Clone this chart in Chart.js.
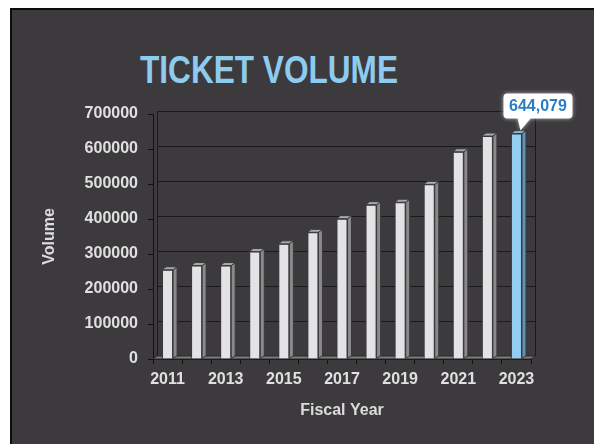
<!DOCTYPE html>
<html>
<head>
<meta charset="utf-8">
<script src="https://cdn.jsdelivr.net/npm/chart.js@4.4.1/dist/chart.umd.min.js"></script>
<style>
  html,body{margin:0;padding:0;background:#fff;overflow:hidden;}
  #panel{position:absolute;left:10px;top:8px;width:600px;height:450px;background:#3c3a3d;border:2px solid #0c0c0c;}
  #title{position:absolute;left:0;width:538px;top:50px;text-align:center;font:bold 39px "Liberation Sans",Arial,sans-serif;line-height:39px;color:#8dcbef;transform:scaleX(0.81);transform-origin:269px 0;}
  #wrap{position:absolute;left:0;top:0;width:594px;height:444px;}
</style>
</head>
<body>
<div id="panel"></div>
<div id="title">TICKET VOLUME</div>
<div id="wrap"><canvas id="chart"></canvas></div>
<script>
// --- Data ---
const YEARS = ['2011','2012','2013','2014','2015','2016','2017','2018','2019','2020','2021','2022','2023'];
const VOLUME = [255000,267000,267000,307000,329000,362000,401000,441000,448000,499000,592000,637000,644079];
const Y_TICKS = [0,100000,200000,300000,400000,500000,600000,700000];
const HIGHLIGHT = 12; // 2023 bar, with callout

const FONT = 'Liberation Sans, Arial, sans-serif';
const DX = 4, DY = 3; // 3d depth

function shade(i, kind){
  if(i===HIGHLIGHT) return kind==='front' ? '#93cdf1' : kind==='side' ? '#5f92b6' : '#7db5db';
  return kind==='front' ? '#e3e3e5' : kind==='side' ? '#8a8a8c' : '#aaaaac';
}

// back wall, gridlines and floor, behind the bars
const wallPlugin = {
  id:'wall',
  beforeDatasetsDraw(chart){
    const {ctx, chartArea:a, scales:{y}} = chart;
    ctx.save();
    ctx.strokeStyle = '#1a1a1a';
    ctx.lineWidth = 1;
    Y_TICKS.forEach(v=>{
      const py = Math.round(y.getPixelForValue(v)-DY)+0.5;
      ctx.beginPath(); ctx.moveTo(a.left+DX, py); ctx.lineTo(a.right+DX, py); ctx.stroke();
    });
    // wall edges
    const top = Math.round(y.getPixelForValue(Y_TICKS[Y_TICKS.length-1])-DY)+0.5;
    ctx.beginPath();
    ctx.moveTo(a.left+DX+0.5, top); ctx.lineTo(a.left+DX+0.5, a.bottom-DY);
    ctx.lineTo(a.left, a.bottom);
    ctx.moveTo(a.right+DX+0.5, top); ctx.lineTo(a.right+DX+0.5, a.bottom-DY);
    ctx.stroke();
    // floor
    ctx.fillStyle = '#7c7c7e';
    ctx.beginPath();
    ctx.moveTo(a.left, a.bottom); ctx.lineTo(a.right, a.bottom);
    ctx.lineTo(a.right+DX, a.bottom-DY); ctx.lineTo(a.left+DX, a.bottom-DY);
    ctx.closePath(); ctx.fill();
    ctx.strokeStyle = '#2a2a2a'; ctx.stroke();
    ctx.restore();
  }
};

// side + top faces of the bars, and the callout
const barPlugin = {
  id:'bar3d',
  afterDatasetsDraw(chart){
    const {ctx} = chart;
    const meta = chart.getDatasetMeta(0);
    ctx.save();
    ctx.lineWidth = 1;
    ctx.strokeStyle = '#3a3a3a';
    meta.data.forEach((el,i)=>{
      const l = el.x - el.width/2, r = el.x + el.width/2, t = el.y, b = el.base;
      ctx.fillStyle = shade(i,'side');
      ctx.beginPath();
      ctx.moveTo(r,t); ctx.lineTo(r+DX,t-DY); ctx.lineTo(r+DX,b-DY); ctx.lineTo(r,b);
      ctx.closePath(); ctx.fill(); ctx.stroke();
      ctx.fillStyle = shade(i,'top');
      ctx.beginPath();
      ctx.moveTo(l,t); ctx.lineTo(l+DX,t-DY); ctx.lineTo(r+DX,t-DY); ctx.lineTo(r,t);
      ctx.closePath(); ctx.fill(); ctx.stroke();
    });
    // callout on highlighted bar
    const el = meta.data[HIGHLIGHT];
    const bx = el.x-13, by = el.y-40, bw = 69, bh = 25;
    ctx.shadowColor = 'rgba(255,255,255,0.6)';
    ctx.shadowBlur = 4;
    ctx.fillStyle = '#ffffff';
    ctx.beginPath();
    ctx.roundRect(bx, by, bw, bh, 4);
    ctx.fill();
    ctx.beginPath();
    ctx.moveTo(el.x+1, by+bh-1); ctx.lineTo(el.x+15, by+bh-1); ctx.lineTo(el.x+4, el.y-3);
    ctx.closePath(); ctx.fill();
    ctx.shadowBlur = 0;
    ctx.fillStyle = '#2a7dc4';
    ctx.font = 'bold 16px ' + FONT;
    ctx.textAlign = 'center'; ctx.textBaseline = 'middle';
    ctx.fillText(VOLUME[HIGHLIGHT].toLocaleString('en-US'), bx+bw/2, by+bh/2+1);
    ctx.restore();
  }
};

new Chart(document.getElementById('chart'), {
  type:'bar',
  data:{
    labels:YEARS,
    datasets:[{
      data:VOLUME,
      backgroundColor:VOLUME.map((v,i)=>shade(i,'front')),
      borderColor:'#3a3a3a',
      borderWidth:1,
      barPercentage:0.38,
      categoryPercentage:1
    }]
  },
  options:{
    responsive:true,
    maintainAspectRatio:false,
    animation:false,
    layout:{padding:{left:0,right:63,top:114,bottom:0}},
    plugins:{legend:{display:false},tooltip:{enabled:false},title:{display:false}},
    scales:{
      x:{
        afterFit:s=>{ s.height = 85; },
        grid:{offset:true,drawOnChartArea:false,drawTicks:true,tickLength:5,color:'#111'},
        border:{display:true,color:'#111'},
        ticks:{
          autoSkip:false,maxRotation:0,padding:6,color:'#e0e0e0',
          font:{family:FONT,size:16,weight:'bold'},
          callback:(v,i)=> i%2===0 ? YEARS[i] : ''
        },
        title:{display:true,text:'Fiscal Year',color:'#dcdcdc',font:{family:FONT,size:16,weight:'bold'},padding:{top:0,bottom:24}}
      },
      y:{
        min:0,max:700000,
        afterFit:s=>{ s.width = 153; },
        grid:{drawOnChartArea:false,drawTicks:true,tickLength:5,color:'#111'},
        border:{display:true,color:'#111'},
        ticks:{stepSize:100000,padding:10,color:'#e0e0e0',font:{family:FONT,size:16,weight:'bold'},
          callback:v=>String(v)},
        title:{display:true,text:'Volume',color:'#dcdcdc',font:{family:FONT,size:16,weight:'bold'},padding:{top:40,bottom:0}}
      }
    }
  },
  plugins:[wallPlugin, barPlugin]
});
</script>
</body>
</html>
